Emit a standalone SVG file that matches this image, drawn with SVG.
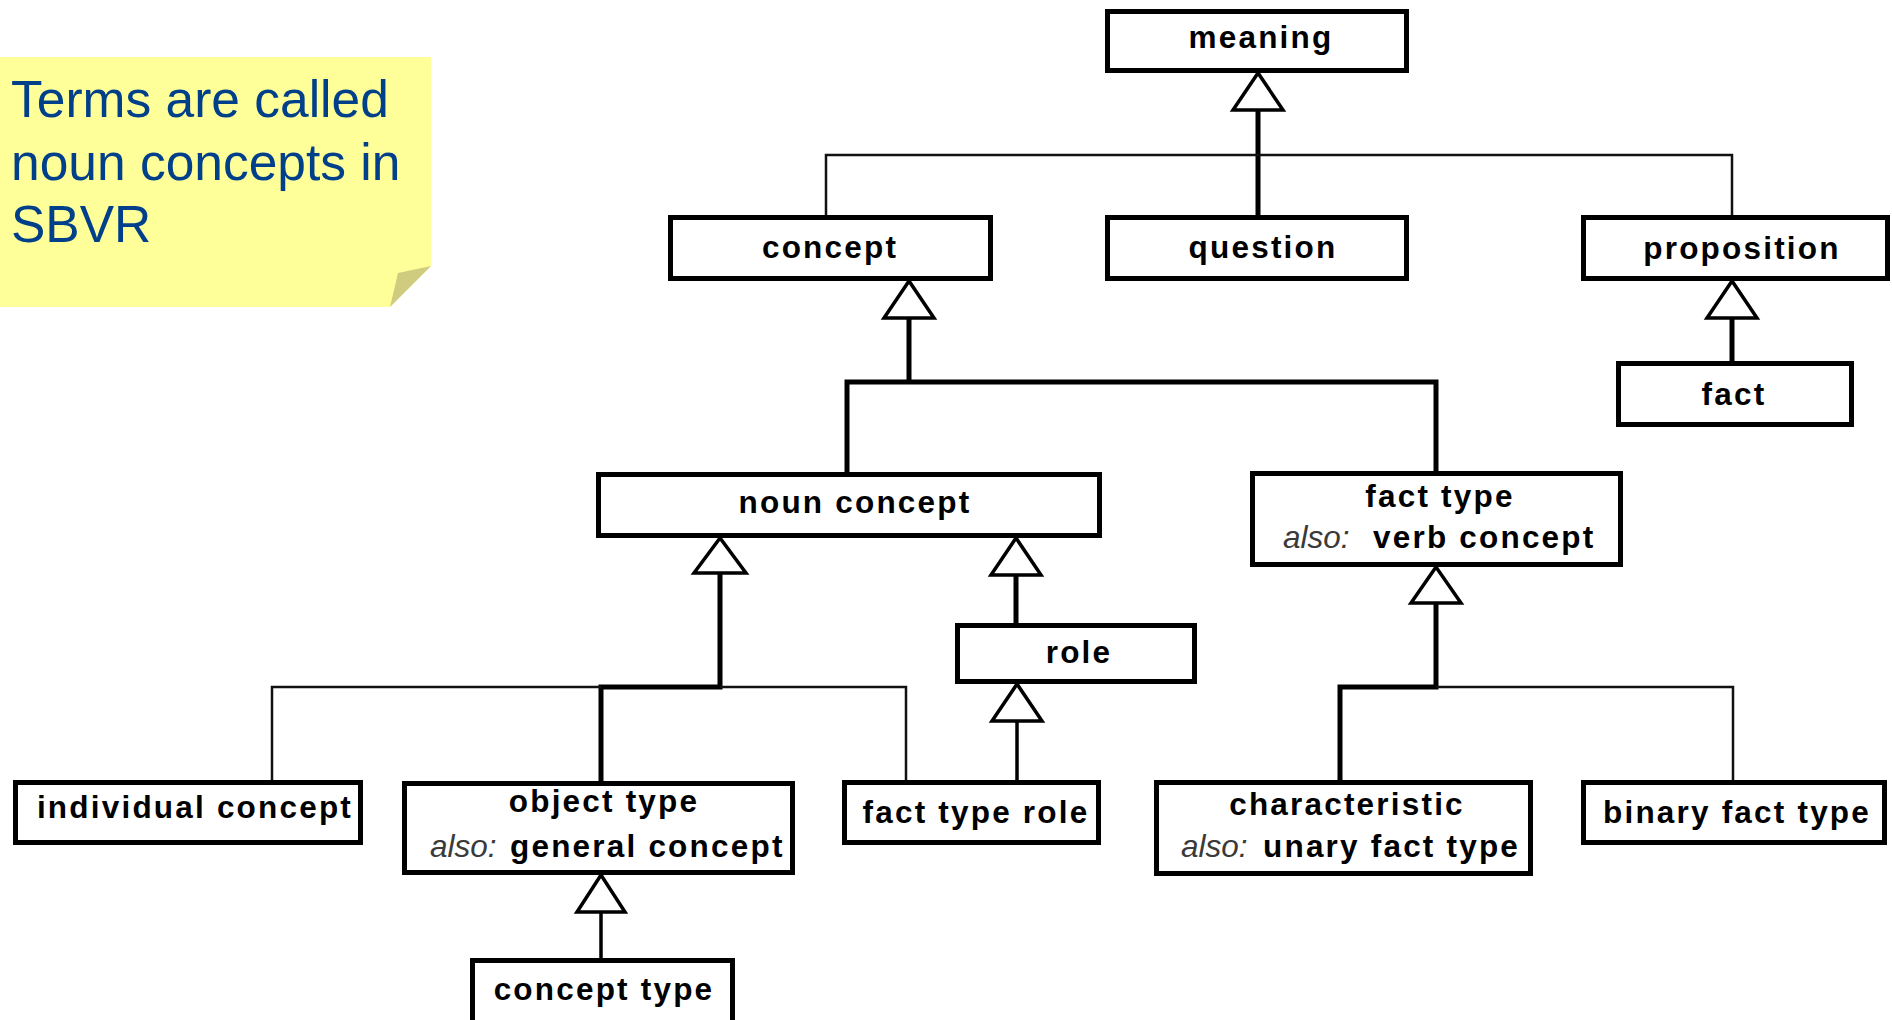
<svg xmlns="http://www.w3.org/2000/svg" width="1892" height="1020" viewBox="0 0 1892 1020">
<style>
.box{fill:#fff;stroke:#000;stroke-width:5}
.tri{fill:#fff;stroke:#000;stroke-width:3.5;stroke-linejoin:miter}
.thick{fill:none;stroke:#000;stroke-width:5}
.thin{fill:none;stroke:#111;stroke-width:2.5}
.mid{fill:none;stroke:#000;stroke-width:3.5}
.lbl{font-family:"Liberation Sans",Arial,sans-serif;font-weight:bold;font-size:31.5px;letter-spacing:2.2px;fill:#000;text-anchor:middle}
.st{text-anchor:start}
.also{font-style:italic;font-weight:normal;fill:#3a3a3a;letter-spacing:0}
.note{font-family:"Liberation Sans",Arial,sans-serif;font-size:51.5px;fill:#003f8a}
</style>
<rect width="1892" height="1020" fill="#fff"/>
<g id="note">
<polygon points="0,57 431,57 431,266 390,307 0,307" fill="#ffff99"/>
<polygon points="398,273 431,266 390,307" fill="#cfcc7f"/>
<text class="note" x="11" y="117">Terms are called</text>
<text class="note" x="11" y="180">noun concepts in</text>
<text class="note" x="11" y="242">SBVR</text>
</g>
<g id="connectors">
<path class="thick" d="M1258 110V215"/>
<path class="thin" d="M826 215V155H1732V215"/>
<path class="thick" d="M909 318V382M847 472V382H1436V471"/>
<path class="thick" d="M1732 318V361"/>
<path class="thick" d="M720 573V687H601V781"/>
<path class="thin" d="M272 780V687H601M720 687H906V780"/>
<path class="thick" d="M1016 575V623"/>
<path class="mid" d="M1017 721V780"/>
<path class="thick" d="M1436 603V687H1340V780"/>
<path class="thin" d="M1436 687H1733V780"/>
<path class="mid" d="M601 912V958"/>
<polygon class="tri" points="1258,73 1233,110 1283,110"/>
<polygon class="tri" points="909,281 884,318 934,318"/>
<polygon class="tri" points="1732,281 1707,318 1757,318"/>
<polygon class="tri" points="720,538 694,573 746,573"/>
<polygon class="tri" points="1016,538 991,575 1041,575"/>
<polygon class="tri" points="1017,684 992,721 1042,721"/>
<polygon class="tri" points="1436,567 1411,603 1461,603"/>
<polygon class="tri" points="601,875 577,912 625,912"/>
</g>
<g id="meaning"><rect class="box" x="1107.5" y="11.5" width="299" height="59"/><text class="lbl" x="1261" y="48">meaning</text></g>
<g id="concept"><rect class="box" x="670.5" y="217.5" width="320" height="61"/><text class="lbl" x="830" y="258">concept</text></g>
<g id="question"><rect class="box" x="1107.5" y="217.5" width="299" height="61"/><text class="lbl" x="1263" y="258">question</text></g>
<g id="proposition"><rect class="box" x="1583.5" y="217.5" width="304" height="61"/><text class="lbl" x="1742" y="259">proposition</text></g>
<g id="fact"><rect class="box" x="1618.5" y="363.5" width="233" height="61"/><text class="lbl" x="1734" y="405">fact</text></g>
<g id="noun-concept"><rect class="box" x="598.5" y="474.5" width="501" height="61"/><text class="lbl" x="855" y="513">noun concept</text></g>
<g id="fact-type"><rect class="box" x="1252.5" y="473.5" width="368" height="91"/><text class="lbl" x="1440" y="507">fact type</text><text class="lbl st" y="548"><tspan class="also" x="1283">also:</tspan><tspan x="1373">verb concept</tspan></text></g>
<g id="role"><rect class="box" x="957.5" y="625.5" width="237" height="56"/><text class="lbl" x="1079" y="663">role</text></g>
<g id="individual-concept"><rect class="box" x="15.5" y="782.5" width="345" height="60"/><text class="lbl" x="195" y="818">individual concept</text></g>
<g id="object-type"><rect class="box" x="404.5" y="783.5" width="388" height="89"/><text class="lbl" x="604" y="812">object type</text><text class="lbl st" y="857"><tspan class="also" x="430">also:</tspan><tspan x="510">general concept</tspan></text></g>
<g id="fact-type-role"><rect class="box" x="844.5" y="782.5" width="254" height="60"/><text class="lbl" x="976" y="823">fact type role</text></g>
<g id="characteristic"><rect class="box" x="1156.5" y="782.5" width="374" height="91"/><text class="lbl" x="1347" y="815">characteristic</text><text class="lbl st" y="857"><tspan class="also" x="1181">also:</tspan><tspan x="1263">unary fact type</tspan></text></g>
<g id="binary-fact-type"><rect class="box" x="1583.5" y="782.5" width="301" height="60"/><text class="lbl" x="1737" y="823">binary fact type</text></g>
<g id="concept-type"><rect class="box" x="472.5" y="960.5" width="260" height="66"/><text class="lbl" x="604" y="1000">concept type</text></g>
</svg>
